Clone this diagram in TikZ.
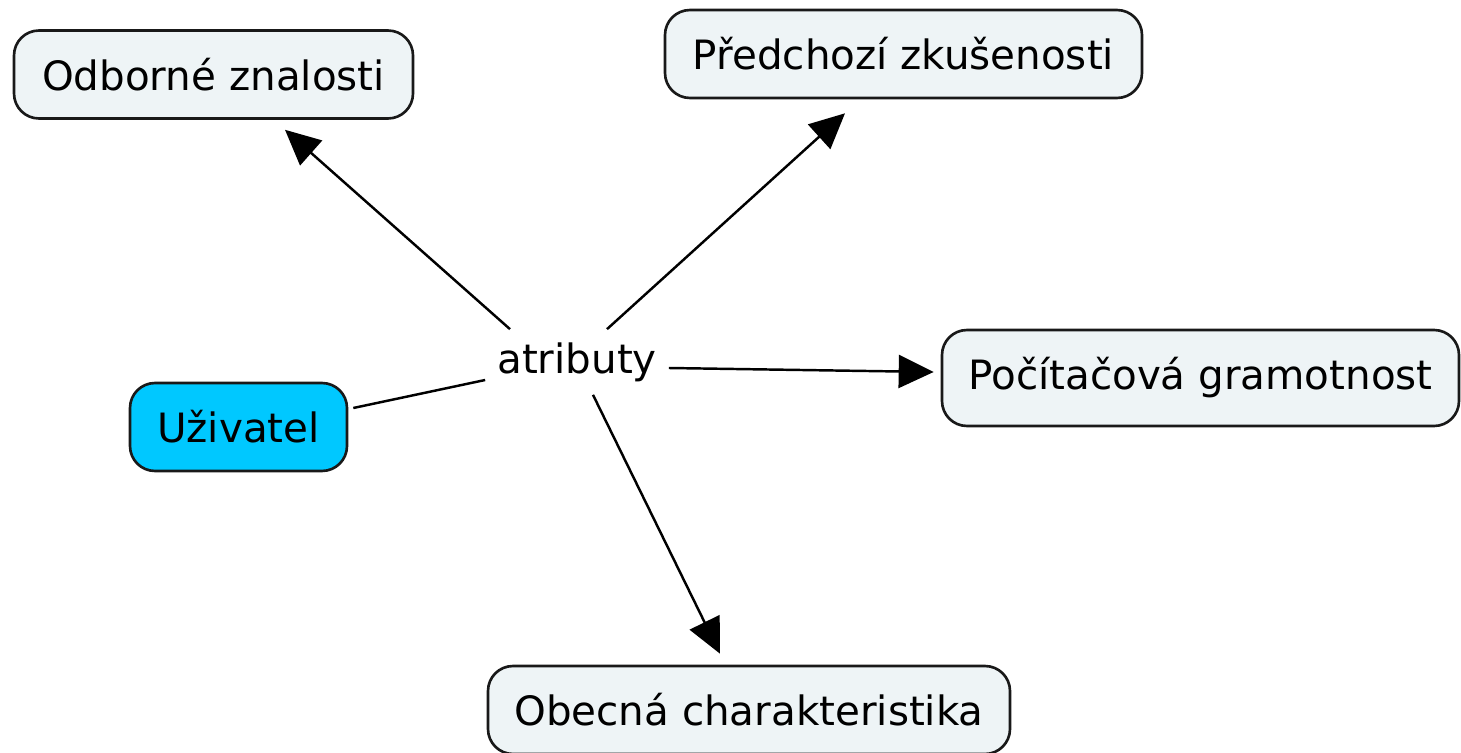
\documentclass[tikz,border=0pt]{standalone}
\usepackage{fontspec}
\setmainfont{DejaVu Sans}
\usetikzlibrary{calc, arrows.meta}
\def\px{0.02cm}
\def\cornerradius{0.5cm}
\def\conceptheight{1.76cm}
\def\conceptborder{1.5pt}
\def\linkwidth{1.4pt}
\definecolor{conceptdrawcolor}{RGB}{25,25,25}
\definecolor{conceptfillcolor}{RGB}{238,244,246}
\definecolor{userfillcolor}{RGB}{0,200,255}
\tikzset{
	% texts
	concept_text/.style={
		font=\fontsize{23}{27}\selectfont,
		align=center,
	},
	% concepts
	concept/.style={
		draw=conceptdrawcolor,
		fill=conceptfillcolor,
		line width=\conceptborder,
		rounded corners=\cornerradius,
		shape=rectangle,
		concept_text,
		inner sep=0,
		minimum height=\conceptheight,
	},
	user_concept/.style={
		concept,
		fill=userfillcolor,
	},
	% linking phrase
	linking_phrase/.style={
		concept_text,
		inner sep=0,
		minimum width=183*\px,
		minimum height=65*\px,
	},
	% connections
	plain_link/.style={
		line width=\linkwidth,
	},
	arrow_link/.style={
		line width=\linkwidth,
		-{Triangle[length=0.7cm, width=0.66cm]},
	}
}
\begin{document}
\begin{tikzpicture}[x=\px, y=-\px]
		\useasboundingbox (0,0) rectangle (1461,753);

		% Concepts
		\node[
			concept,
			minimum width=399*\px,
		] (odborne) at (213.5,74.5) {Odborné znalosti};
		\node[
			concept,
			minimum width=477*\px,
		] (predchozi) at (903.5,54) {Předchozí zkušenosti};
		\node[
			concept,
			minimum width=517*\px,
			minimum height=96*\px,
		] (pocitacova) at (1200.5,378) {Počítačová gramotnost};
		\node[
			user_concept,
			minimum width=217*\px,
		] (uzivatel) at (238.5,427) {Uživatel};
		\node[
			concept,
			minimum width=522*\px,
		] (obecna) at (749,710) {Obecná charakteristika};

		% Linking phrase
		\node[
			linking_phrase,
		] (atributy) at (577,362) {atributy};

		% Connections
		\draw[plain_link] ($(uzivatel.east)+(5,-19)$) -- ($(atributy.west)+(0,18)$);
		\draw[arrow_link] ($(atributy.north)+(-67,0)$) -- ($(odborne.south)+(71.5,10)$);
		\draw[arrow_link] ($(atributy.north)+(30,0)$) -- ($(predchozi.south)+(-58.5,14)$);
		\draw[arrow_link] ($(atributy.east)+(0,6)$) -- ($(pocitacova.west)+(-7,-6)$);
		\draw[arrow_link] ($(atributy.south)+(16,0)$) -- ($(obecna.north)+(-29,-11)$);
	\end{tikzpicture}
\end{document}
